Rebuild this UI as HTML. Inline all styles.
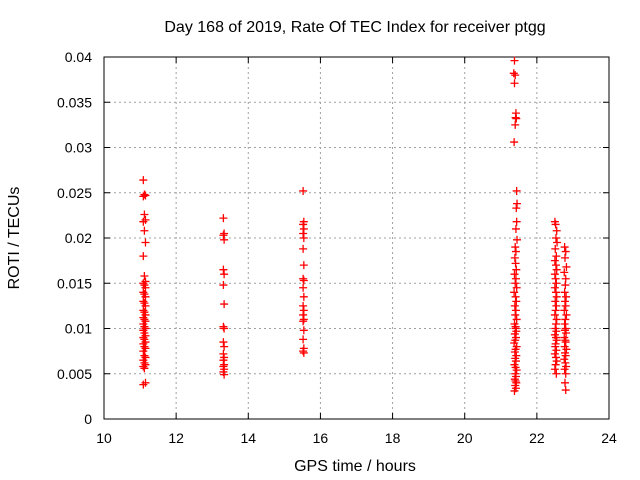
<!DOCTYPE html>
<html><head><meta charset="utf-8"><style>
body{margin:0;background:#fff;}
svg{display:block;font-family:"Liberation Sans",sans-serif;}
</style></head><body>
<svg id="chart" width="640" height="480">
<text x="355" y="32" font-size="16" text-anchor="middle">Day 168 of 2019, Rate Of TEC Index for receiver ptgg</text>
<g id="grid"></g>
<g id="ticks"></g>
<rect x="104" y="57" width="505" height="362" fill="none" stroke="#000" stroke-width="1"/>
<g id="pts"></g>
<text x="355" y="471" font-size="16" text-anchor="middle">GPS time / hours</text>
<text x="19" y="238" font-size="16" text-anchor="middle" transform="rotate(-90 19 238)">ROTI / TECUs</text>
</svg>
<script>
const xTicks=[10,12,14,16,18,20,22,24];
const yTicks=[0,0.005,0.01,0.015,0.02,0.025,0.03,0.035,0.04];
const yTickLabels=["0","0.005","0.01","0.015","0.02","0.025","0.03","0.035","0.04"];
const c1x=11.12;
const c1y=[0.0264,0.0248,0.0247,0.0246,0.0226,0.022,0.0218,0.0208,0.0195,0.018,0.0158,0.0152,0.015,0.0148,0.0145,0.014,0.0138,0.0135,0.013,0.0128,0.0125,0.012,0.0118,0.0115,0.0112,0.011,0.0108,0.0105,0.0102,0.01,0.0098,0.0095,0.0092,0.009,0.0088,0.0085,0.0083,0.008,0.0078,0.0075,0.007,0.0068,0.0065,0.0062,0.006,0.0058,0.0056,0.004,0.0038];
const c2x=13.32;
const c2y=[0.0222,0.0205,0.0203,0.0198,0.0165,0.016,0.0148,0.0127,0.0102,0.01,0.0085,0.008,0.0072,0.0068,0.0065,0.006,0.0058,0.0055,0.0052,0.0049];
const c3x=15.53;
const c3y=[0.0252,0.0218,0.0215,0.021,0.0205,0.02,0.0188,0.017,0.0155,0.0153,0.0145,0.0135,0.0125,0.012,0.0115,0.011,0.0108,0.0098,0.0088,0.0078,0.0075,0.0073];
const c4x=[21.38,21.36,21.4,21.38,21.42,21.41,21.43,21.4,21.37,21.44,21.45,21.43,21.44,21.42,21.45,21.4,21.42,21.39,21.41,21.43,21.38,21.42,21.4,21.44,21.37,21.41,21.43,21.39,21.42,21.4,21.44,21.38,21.41,21.43,21.39,21.42,21.4,21.37,21.44,21.41,21.39,21.43,21.4,21.42,21.38,21.41,21.44,21.4,21.42,21.39,21.41,21.43,21.4,21.42,21.38,21.41];
const c4y=[0.0396,0.0382,0.038,0.0371,0.0338,0.0333,0.0332,0.0325,0.0306,0.0252,0.0238,0.0233,0.0218,0.021,0.0198,0.019,0.0185,0.0178,0.0172,0.0165,0.016,0.0155,0.015,0.0145,0.014,0.0135,0.013,0.0125,0.012,0.0115,0.011,0.0105,0.01,0.0097,0.0094,0.009,0.0087,0.0084,0.008,0.0077,0.0074,0.007,0.0067,0.0064,0.006,0.0057,0.0054,0.005,0.0047,0.0044,0.0042,0.004,0.0037,0.0034,0.0031,0.0102];
const c5x=[22.5,22.52,22.55,22.53,22.56,22.51,22.54,22.77,22.8,22.5,22.53,22.78,22.55,22.82,22.5,22.76,22.52,22.8,22.54,22.79,22.5,22.77,22.53,22.81,22.55,22.78,22.51,22.8,22.54,22.76,22.52,22.82,22.5,22.79,22.55,22.77,22.53,22.8,22.51,22.78,22.54,22.81,22.5,22.76,22.53,22.79,22.55,22.8,22.52,22.77,22.51,22.82,22.54,22.78,22.5,22.8,22.53,22.76,22.55,22.79,22.52,22.81,22.5,22.77,22.54,22.8,22.78,22.8];
const c5y=[0.0218,0.0215,0.0208,0.02,0.0195,0.0188,0.018,0.019,0.0185,0.0175,0.017,0.0178,0.0165,0.0168,0.016,0.0162,0.0155,0.0155,0.015,0.0148,0.0145,0.014,0.014,0.0135,0.0135,0.013,0.013,0.0125,0.0125,0.012,0.012,0.0115,0.0115,0.011,0.011,0.0105,0.0105,0.01,0.01,0.0098,0.0097,0.0095,0.0093,0.009,0.009,0.0087,0.0087,0.0085,0.0083,0.008,0.008,0.0077,0.0076,0.0073,0.0072,0.007,0.0068,0.0066,0.0064,0.0062,0.006,0.0058,0.0055,0.0055,0.005,0.005,0.004,0.0032];
const X0=104,X1=609,Y0=419,Y1=57;
function sx(v){return X0+(v-10)/14*(X1-X0);}
function sy(v){return Y0-v/0.04*(Y0-Y1);}
const NS="http://www.w3.org/2000/svg";
const grid=document.getElementById('grid'),ticks=document.getElementById('ticks'),pts=document.getElementById('pts');
function mk(tag,attrs,parent){const e=document.createElementNS(NS,tag);for(const k in attrs)e.setAttribute(k,attrs[k]);parent.appendChild(e);return e;}
xTicks.forEach((t,i)=>{const x=sx(t);
 if(i>0&&i<xTicks.length-1){const g=mk('line',{x1:x,x2:x,y1:Y1,y2:Y0,stroke:'#a0a0a0','stroke-dasharray':'2,3'},grid);
 
 }
 mk('line',{x1:x,x2:x,y1:Y0,y2:Y0-6,stroke:'#000'},ticks);mk('line',{x1:x,x2:x,y1:Y1,y2:Y1+6,stroke:'#000'},ticks);
 const l=mk('text',{x:x,y:Y0+24,'font-size':14,'text-anchor':'middle'},ticks);l.textContent=t;
 
 });
yTicks.forEach((t,i)=>{const y=sy(t);
 if(i>0&&i<yTicks.length-1){const g=mk('line',{x1:X0,x2:X1,y1:y,y2:y,stroke:'#a0a0a0','stroke-dasharray':'2,3'},grid);
 
 }
 mk('line',{x1:X0,x2:X0+6,y1:y,y2:y,stroke:'#000'},ticks);mk('line',{x1:X1,x2:X1-6,y1:y,y2:y,stroke:'#000'},ticks);
 const l=mk('text',{x:X0-12,y:y+5,'font-size':14,'text-anchor':'end'},ticks);l.textContent=yTickLabels[i];
 
 });
function plus(xv,yv){const x=sx(xv),y=sy(yv);
 const p=mk('path',{d:`M${x-4},${y}h8M${x},${y-4}v8`,stroke:'#ff0000','stroke-width':1.3,fill:'none'},pts);
 
 }
c1y.forEach((v,i)=>plus(c1x+((i%3)-1)*0.03,v));
c2y.forEach((v,i)=>plus(c2x+((i%2)-0.5)*0.02,v));
c3y.forEach((v,i)=>plus(c3x+((i%2)-0.5)*0.02,v));
c4y.forEach((v,i)=>plus(c4x[i],v));
c5y.forEach((v,i)=>plus(c5x[i],v));
</script>
</body></html>
